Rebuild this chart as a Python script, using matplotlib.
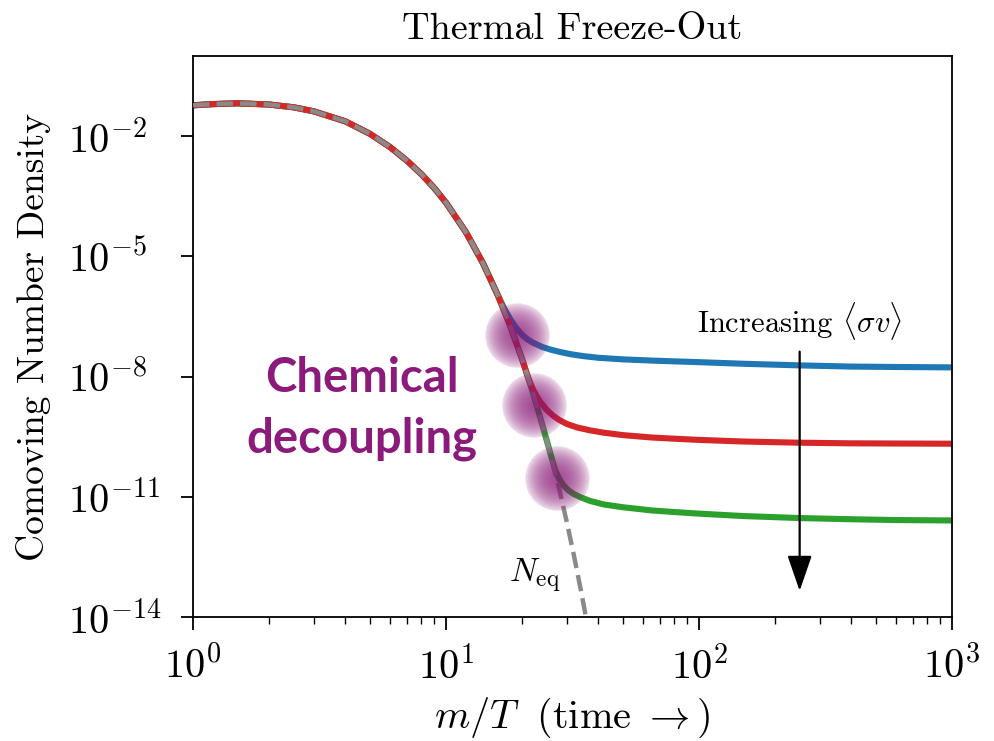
'''
Thermal freeze-out sketch: comoving number density vs m/T.
'''

import matplotlib as mpl
import matplotlib.pyplot as plt
import numpy as np

mpl.rcParams['font.size']                  = 26.0
mpl.rcParams['font.family']                = 'serif'
mpl.rcParams['font.serif']                 = ['cmr10']
mpl.rcParams['mathtext.fontset']           = 'cm'
mpl.rcParams['axes.formatter.use_mathtext'] = True
mpl.rcParams['axes.linewidth']             = 1.3

# ---------------------------------------------------------------------------- #

# equilibrium density, log10 values
x_eq = [1.0, 1.2, 1.5, 2.0, 2.5, 3.0, 4.0, 5.0, 6.0, 7.0, 8.0, 9.0, 10.0,
        12.0, 14.0, 16.0, 18.0, 20.0, 22.0, 24.0, 26.0, 28.0, 30.0, 32.0,
        34.0, 36.0]
logn_eq = [-1.23, -1.20, -1.18, -1.21, -1.28, -1.38, -1.63, -1.94, -2.27,
           -2.61, -2.95, -3.30, -3.66, -4.40, -5.17, -5.96, -6.76, -7.57,
           -8.38, -9.19, -10.0, -10.8, -11.62, -12.45, -13.28, -14.1]

# freeze-out tails after leaving equilibrium (log10)
x_blue = [16, 17, 18, 19, 20, 21, 22, 24, 26, 28, 31, 35, 40, 50, 65, 80,
          100, 150, 250, 400, 600, 1000]
logn_blue = [-5.96, -6.30, -6.58, -6.80, -6.96, -7.07, -7.15, -7.26, -7.33,
             -7.38, -7.44, -7.49, -7.53, -7.57, -7.60, -7.62, -7.64, -7.68,
             -7.72, -7.75, -7.76, -7.77]

x_red = [20, 21, 21.5, 22, 22.5, 23.5, 25, 26.5, 28, 30, 33, 37, 42, 50, 65,
         80, 100, 150, 250, 400, 600, 1000]
logn_red = [-7.57, -7.98, -8.15, -8.30, -8.42, -8.62, -8.83, -8.975, -9.08,
            -9.18, -9.27, -9.34, -9.40, -9.46, -9.52, -9.55, -9.58, -9.62,
            -9.65, -9.665, -9.67, -9.675]

x_green = [26, 26.5, 27, 28, 29, 30.5, 32, 34, 37, 42, 50, 65, 80, 100, 150,
           250, 400, 600, 1000]
logn_green = [-9.97, -10.15, -10.33, -10.55, -10.70, -10.84, -10.93, -11.01,
              -11.10, -11.19, -11.26, -11.34, -11.38, -11.42, -11.48, -11.53,
              -11.56, -11.58, -11.59]

# decoupling points
x_dec = [19.0, 22.3, 27.5]
n_dec = [1.12e-7, 2.0e-9, 2.95e-11]

# ---------------------------------------------------------------------------- #

def full_curve(x_tail, logn_tail):
    x = [xi for xi in x_eq if xi < x_tail[0]] + list(x_tail)
    ln = [li for xi, li in zip(x_eq, logn_eq) if xi < x_tail[0]] + list(logn_tail)
    return np.array(x), 10.0**np.array(ln)

fig = plt.figure(figsize=(9.94, 7.41), dpi=100)
ax = fig.add_axes([0.1942, 0.1673, 0.7635, 0.7571])

lw = 4.4
for xt, lt, c in [(x_blue, logn_blue, '#1f77b4'),
                  (x_green, logn_green, '#2ca02c'),
                  (x_red, logn_red, '#d62728')]:
    x, n = full_curve(xt, lt)
    ax.plot(x, n, color=c, linewidth=lw, solid_capstyle='butt', zorder=2)

ax.plot(x_eq, 10.0**np.array(logn_eq), color='#8a8a8a', linestyle='--',
        linewidth=3.2, zorder=3)

# fuzzy purple blobs
purple = '#8b1a7a'
nlay = 24
for k in range(nlay):
    s = 2150 * (1 - k / nlay)**1.5
    a = 0.16 if k == 0 else 0.05
    ax.scatter(x_dec, n_dec, s=s, color=purple, alpha=a, linewidths=0,
               zorder=4)

ax.annotate('', xy=(250, 4.5e-14), xytext=(250, 4.2e-8),
            arrowprops=dict(arrowstyle='-|>,head_width=0.38,head_length=1.1',
                            color='k', lw=1.6, mutation_scale=20,
                            shrinkA=0, shrinkB=0), zorder=5)
ax.text(250, 7.5e-8, r'Increasing $\langle\sigma v\rangle$', fontsize=22,
        ha='center', va='bottom')
ax.text(22.5, 3.6e-14, r'$N_{\rm eq}$', fontsize=24, ha='center',
        va='bottom')
ax.text(4.66, 1.6e-9, 'Chemical\ndecoupling', fontsize=34, color=purple,
        family='Lato', fontweight='bold', ha='center', va='center',
        linespacing=1.45)

ax.set_xscale('log')
ax.set_yscale('log')
ax.set_xlim(1, 1000)
ax.set_ylim(1e-14, 1)
ax.set_yticks([1e-14, 1e-11, 1e-8, 1e-5, 1e-2])
ax.yaxis.set_minor_locator(mpl.ticker.NullLocator())
ax.tick_params(which='major', length=9, width=1.3, labelsize=29)
ax.tick_params(which='minor', length=5, width=1.0)
ax.tick_params(axis='x', which='major', pad=12)
# y labels sit flush left, as in the original
ax.tick_params(axis='y', which='major', pad=81)
for lab in ax.get_yticklabels():
    lab.set_horizontalalignment('left')

ax.set_xlabel(r'$m/T\ \ (\mathrm{time}\ \rightarrow)$', fontsize=29,
              labelpad=6)
ax.set_ylabel('Comoving Number Density', fontsize=27, labelpad=12)
ax.set_title('Thermal Freeze-Out', fontsize=27.5, pad=12)

plt.savefig('out.png')
